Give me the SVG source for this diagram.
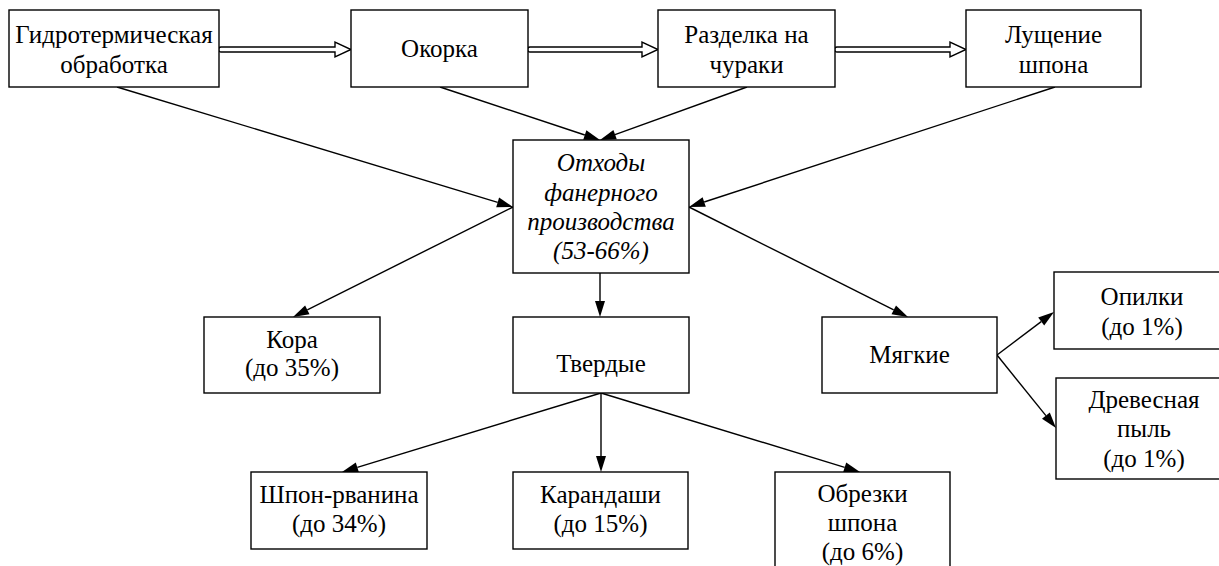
<svg xmlns="http://www.w3.org/2000/svg" width="1219" height="566" viewBox="0 0 1219 566">
<rect width="1219" height="566" fill="#fff"/>
<g id="connectors" stroke="#000" stroke-width="1.4">
<path fill="#fff" d="M221,47 L335,47 L335,42 L351,49.5 L335,57 L335,52 L221,52 A2.5,2.5 0 0 1 221,47 Z"/>
<path fill="#fff" d="M530,47 L642,47 L642,42 L658,49.5 L642,57 L642,52 L530,52 A2.5,2.5 0 0 1 530,47 Z"/>
<path fill="#fff" d="M837,47 L950,47 L950,42 L966,49.5 L950,57 L950,52 L837,52 A2.5,2.5 0 0 1 837,47 Z"/>
<line x1="117" y1="87" x2="497.7" y2="202.4"/>
<line x1="440" y1="87" x2="584.8" y2="135"/>
<line x1="747" y1="87" x2="615" y2="134.6"/>
<line x1="1055" y1="87" x2="704.2" y2="202"/>
<line x1="513" y1="207" x2="307.3" y2="309.8"/>
<line x1="600" y1="273" x2="600" y2="301"/>
<line x1="689" y1="207" x2="893.7" y2="309.8"/>
<line x1="997" y1="355" x2="1041.2" y2="321.6"/>
<line x1="997" y1="355" x2="1045.9" y2="415.6"/>
<line x1="601" y1="393" x2="357.3" y2="467.3"/>
<line x1="601" y1="393" x2="601" y2="456"/>
<line x1="601" y1="393" x2="844.7" y2="467.3"/>
<g fill="#000" stroke="none">
<polygon points="513,207 496.2,207.2 499.1,197.6"/>
<polygon points="600,140 583.2,139.7 586.4,130.2"/>
<polygon points="600,140 613.4,129.9 616.8,139.3"/>
<polygon points="689,207 702.6,197.3 705.8,206.8"/>
<polygon points="293,317 305.1,305.4 309.5,314.3"/>
<polygon points="600,317 595,301 605,301"/>
<polygon points="908,317 891.5,314.3 896,305.4"/>
<polygon points="1054,312 1044.2,325.6 1038.2,317.6"/>
<polygon points="1056,428 1042,418.7 1049.8,412.5"/>
<polygon points="342,472 355.8,462.5 358.8,472.1"/>
<polygon points="601,472 596,456 606,456"/>
<polygon points="860,472 843.2,472.1 846.2,462.5"/>
</g>
</g>
<g id="boxes" fill="#fff" stroke="#000" stroke-width="1.4">
<rect id="b-gidro" x="9" y="10" width="210" height="77"/>
<rect id="b-okorka" x="351" y="10" width="177" height="77"/>
<rect id="b-razdelka" x="658" y="10" width="177" height="77"/>
<rect id="b-lushchenie" x="966" y="10" width="175" height="77"/>
<rect id="b-othody" x="513" y="140" width="176" height="133"/>
<rect id="b-kora" x="204" y="317" width="176" height="76"/>
<rect id="b-tverdye" x="513" y="317" width="176" height="76"/>
<rect id="b-myagkie" x="822" y="317" width="175" height="76"/>
<rect id="b-opilki" x="1054" y="272" width="176" height="77"/>
<rect id="b-pyl" x="1056" y="378" width="176" height="101"/>
<rect id="b-shpon" x="251" y="472" width="176" height="77"/>
<rect id="b-karandashi" x="513" y="472" width="175" height="77"/>
<rect id="b-obrezki" x="775" y="472" width="175" height="120"/>
</g>
<g id="n-gidro">
<text x="114" y="43" font-family="Liberation Serif" font-size="25" text-anchor="middle">Гидротермическая</text>
<text x="114" y="72.5" font-family="Liberation Serif" font-size="25" text-anchor="middle">обработка</text>
</g>
<g id="n-okorka">
<text x="439.5" y="57" font-family="Liberation Serif" font-size="25" text-anchor="middle">Окорка</text>
</g>
<g id="n-razdelka">
<text x="746.5" y="43" font-family="Liberation Serif" font-size="25" text-anchor="middle">Разделка на</text>
<text x="746.5" y="72.5" font-family="Liberation Serif" font-size="25" text-anchor="middle">чураки</text>
</g>
<g id="n-lushchenie">
<text x="1053.5" y="43" font-family="Liberation Serif" font-size="25" text-anchor="middle">Лущение</text>
<text x="1053.5" y="72.5" font-family="Liberation Serif" font-size="25" text-anchor="middle">шпона</text>
</g>
<g id="n-othody">
<text x="601" y="171" font-family="Liberation Serif" font-style="italic" font-size="25" text-anchor="middle">Отходы</text>
<text x="601" y="201" font-family="Liberation Serif" font-style="italic" font-size="25" text-anchor="middle">фанерного</text>
<text x="601" y="230" font-family="Liberation Serif" font-style="italic" font-size="25" text-anchor="middle">производства</text>
<text x="601" y="259" font-family="Liberation Serif" font-style="italic" font-size="25" text-anchor="middle">(53-66%)</text>
</g>
<g id="n-kora">
<text x="292" y="348" font-family="Liberation Serif" font-size="25" text-anchor="middle">Кора</text>
<text x="292" y="376" font-family="Liberation Serif" font-size="25" text-anchor="middle">(до 35%)</text>
</g>
<g id="n-tverdye">
<text x="601" y="372" font-family="Liberation Serif" font-size="25" text-anchor="middle">Твердые</text>
</g>
<g id="n-myagkie">
<text x="909.5" y="363" font-family="Liberation Serif" font-size="25" text-anchor="middle">Мягкие</text>
</g>
<g id="n-opilki">
<text x="1142" y="305" font-family="Liberation Serif" font-size="25" text-anchor="middle">Опилки</text>
<text x="1142" y="335" font-family="Liberation Serif" font-size="25" text-anchor="middle">(до 1%)</text>
</g>
<g id="n-pyl">
<text x="1144" y="408" font-family="Liberation Serif" font-size="25" text-anchor="middle">Древесная</text>
<text x="1144" y="437" font-family="Liberation Serif" font-size="25" text-anchor="middle">пыль</text>
<text x="1144" y="467" font-family="Liberation Serif" font-size="25" text-anchor="middle">(до 1%)</text>
</g>
<g id="n-shpon">
<text x="339" y="503" font-family="Liberation Serif" font-size="25" text-anchor="middle">Шпон-рванина</text>
<text x="339" y="532" font-family="Liberation Serif" font-size="25" text-anchor="middle">(до 34%)</text>
</g>
<g id="n-karandashi">
<text x="600.5" y="503" font-family="Liberation Serif" font-size="25" text-anchor="middle">Карандаши</text>
<text x="600.5" y="532" font-family="Liberation Serif" font-size="25" text-anchor="middle">(до 15%)</text>
</g>
<g id="n-obrezki">
<text x="862.5" y="502" font-family="Liberation Serif" font-size="25" text-anchor="middle">Обрезки</text>
<text x="862.5" y="531" font-family="Liberation Serif" font-size="25" text-anchor="middle">шпона</text>
<text x="862.5" y="560" font-family="Liberation Serif" font-size="25" text-anchor="middle">(до 6%)</text>
</g>
</svg>
